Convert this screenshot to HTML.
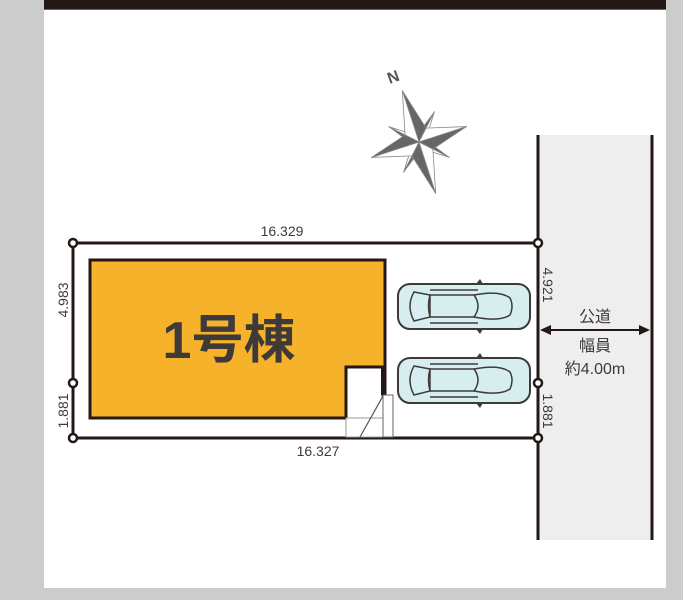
<!DOCTYPE html>
<html><head><meta charset="utf-8"><style>
html,body{margin:0;padding:0;background:#cccccc;}
svg{display:block;}
text{font-family:"Liberation Sans","Noto Sans CJK JP",sans-serif;}
</style></head><body>
<svg width="683" height="600" viewBox="0 0 683 600" xmlns="http://www.w3.org/2000/svg">
<rect x="0" y="0" width="683" height="600" fill="#cccccc"/>
<rect x="44" y="0" width="622" height="588" fill="#ffffff"/>
<rect x="44" y="0" width="622" height="9" fill="#231815"/>
<rect x="44" y="9" width="622" height="1" fill="#666"/>
<!-- road -->
<rect x="538" y="135" width="114" height="405" fill="#eeeeee"/>
<line x1="538" y1="135" x2="538" y2="540" stroke="#231815" stroke-width="3"/>
<line x1="652" y1="135" x2="652" y2="540" stroke="#231815" stroke-width="3"/>
<!-- compass -->
<g transform="translate(419,142) rotate(-18)" stroke="#888" stroke-width="0.8" stroke-linejoin="round">
<polygon points="-24,-24 -9,-3 0,0" fill="#666"/><polygon points="-24,-24 -3,-9 0,0" fill="#fff"/>
<polygon points="24,-24 3,-9 0,0" fill="#666"/><polygon points="24,-24 9,-3 0,0" fill="#fff"/>
<polygon points="24,24 9,3 0,0" fill="#666"/><polygon points="24,24 3,9 0,0" fill="#fff"/>
<polygon points="-24,24 -3,9 0,0" fill="#666"/><polygon points="-24,24 -9,3 0,0" fill="#fff"/>
<polygon points="0,-54 11,-11 0,0" fill="#666"/><polygon points="0,-54 -11,-11 0,0" fill="#fff"/>
<polygon points="0,54 -11,11 0,0" fill="#666"/><polygon points="0,54 11,11 0,0" fill="#fff"/>
<polygon points="50,0 11,-11 0,0" fill="#fff"/><polygon points="50,0 11,11 0,0" fill="#666"/>
<polygon points="-50,0 -11,11 0,0" fill="#fff"/><polygon points="-50,0 -11,-11 0,0" fill="#666"/>
</g>
<text x="0" y="0" transform="translate(395,82) rotate(-20)" font-size="16" font-weight="bold" fill="#555" text-anchor="middle">N</text>
<!-- lot -->
<g stroke="#231815" stroke-width="3" fill="none">
<line x1="73" y1="243" x2="538" y2="243"/>
<line x1="73" y1="438" x2="538" y2="438"/>
<line x1="73" y1="243" x2="73" y2="438"/>
</g>
<!-- house -->
<polygon points="90,260 385,260 385,395 383,395 383,367 346,367 346,418 90,418" fill="#f5b22a" stroke="#231815" stroke-width="3"/>
<rect x="381" y="367" width="5" height="28" fill="#231815"/>
<rect x="346" y="418" width="37" height="19" fill="#fff" stroke="#999" stroke-width="1"/>
<rect x="383" y="395" width="10" height="42" fill="#fff" stroke="#666" stroke-width="1"/>
<line x1="383" y1="396" x2="360" y2="437" stroke="#555" stroke-width="1.2"/>
<text x="229" y="358" font-size="52" font-weight="bold" fill="#3e3a39" text-anchor="middle">1号棟</text>
<!-- cars -->
<g id="car">
<rect x="398" y="284" width="132" height="45" rx="12" fill="#d6eef0" stroke="#3e3a39" stroke-width="2"/>
<path d="M414,292 Q406,306 414,321 L430,317 Q427,306 430,295 Z" fill="#d6eef0" stroke="#3e3a39" stroke-width="1.5"/>
<path d="M430,295 L474,295 Q482,306 474,317 L430,317 Z" fill="#d6eef0" stroke="#3e3a39" stroke-width="1.5"/>
<path d="M474,295 Q500,290 510,298 Q514,306 510,315 Q500,322 474,317" fill="none" stroke="#3e3a39" stroke-width="1.5"/>
<line x1="430" y1="290" x2="478" y2="290" stroke="#3e3a39" stroke-width="1.5"/>
<line x1="430" y1="323" x2="478" y2="323" stroke="#3e3a39" stroke-width="1.5"/>
<polygon points="476,284 480,279 483,284" fill="#3e3a39"/>
<polygon points="476,329 480,334 483,329" fill="#3e3a39"/>
</g>
<use href="#car" transform="translate(0,74)"/>
<!-- circles -->
<g fill="#fff" stroke="#231815" stroke-width="2.5">
<circle cx="73" cy="243" r="4"/><circle cx="73" cy="383" r="4"/><circle cx="73" cy="438" r="4"/>
<circle cx="538" cy="243" r="4"/><circle cx="538" cy="383" r="4"/><circle cx="538" cy="438" r="4"/>
</g>
<!-- dims -->
<g font-size="14" fill="#3e3a39">
<text x="282" y="236" text-anchor="middle">16.329</text>
<text x="318" y="456" text-anchor="middle">16.327</text>
<text transform="translate(68,300) rotate(-90)" text-anchor="middle">4.983</text>
<text transform="translate(68,411) rotate(-90)" text-anchor="middle">1.881</text>
<text transform="translate(543,285) rotate(90)" text-anchor="middle">4.921</text>
<text transform="translate(543,411) rotate(90)" text-anchor="middle">1.881</text>
</g>
<line x1="545" y1="330" x2="645" y2="330" stroke="#231815" stroke-width="2"/>
<polygon points="540,330 551,325 551,335" fill="#231815"/>
<polygon points="650,330 639,325 639,335" fill="#231815"/>
<g font-size="16" fill="#3e3a39" text-anchor="middle">
<text x="595" y="322">公道</text>
<text x="595" y="351">幅員</text>
<text x="595" y="374">約4.00m</text>
</g>
</svg>
</body></html>
